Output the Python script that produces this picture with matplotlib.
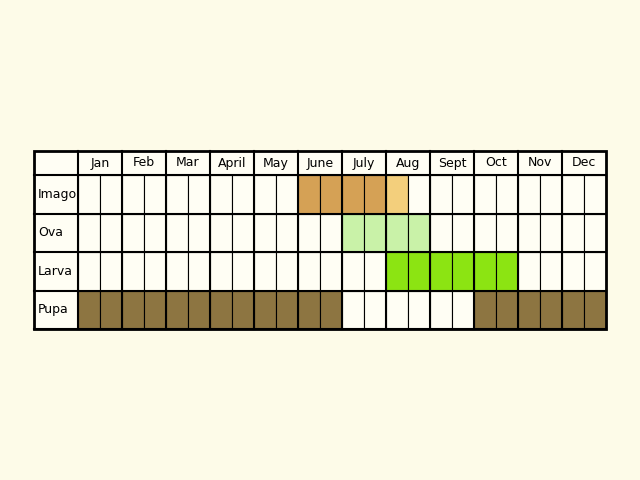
import matplotlib
matplotlib.use("Agg")
import matplotlib.pyplot as plt
from matplotlib.patches import Rectangle

months = ["Jan","Feb","Mar","Apr","April","May","June","July","Aug","Sept","Oct","Nov","Dec"]
months = ["Jan","Feb","Mar","April","May","June","July","Aug","Sept","Oct","Nov","Dec"]
stages = ["Imago","Ova","Larva","Pupa"]
# per half-month codes (24 each): 0 none, 1 main, 2 partial
imago = [0]*10 + [1,1,1,1,2] + [0]*9
ova   = [0]*12 + [1,1,1,1] + [0]*8
larva = [0]*14 + [1]*6 + [0]*4
pupa  = [1]*12 + [0]*6 + [1]*6
stage_data = [imago, ova, larva, pupa]
colors = {"Imago": {1: "#d5a155", 2: "#f3cf7c"},
          "Ova": {1: "#c9f2a8"},
          "Larva": {1: "#8ce412"},
          "Pupa": {1: "#8d7541"}}

bg = "#fdfbe8"; cell = "#fffef4"
fig = plt.figure(figsize=(6.4, 4.8), dpi=100, facecolor=bg)
ax = fig.add_axes([0, 0, 1, 1])
ax.set_xlim(0, 640); ax.set_ylim(480, 0); ax.axis("off")

x0, lab_w, half = 34, 44, 22
y0, head_h, row_h = 151, 24, 38.5
xs = x0 + lab_w
total_w = lab_w + 24 * half
total_h = head_h + 4 * row_h
ax.add_patch(Rectangle((x0, y0), total_w, total_h, fc=cell, ec="none"))

for r, (st, data) in enumerate(zip(stages, stage_data)):
    y = y0 + head_h + r * row_h
    ax.text(x0 + 4, y + row_h / 2, st, va="center", ha="left", fontsize=9)
    for i, v in enumerate(data):
        fc = colors[st].get(v, cell)
        ax.add_patch(Rectangle((xs + i * half, y), half, row_h, fc=fc, ec="black", lw=0.8))
for m, name in enumerate(months):
    ax.text(xs + m * 2 * half + half, y0 + head_h / 2, name, ha="center", va="center", fontsize=9)
    ax.plot([xs + m * 2 * half] * 2, [y0, y0 + total_h], color="black", lw=1.5)
for r in range(5):
    y = y0 + head_h + r * row_h
    ax.plot([x0, x0 + total_w], [y, y], color="black", lw=1.5)
ax.add_patch(Rectangle((x0, y0), total_w, total_h, fc="none", ec="black", lw=2))
fig.savefig("out.png", dpi=100, facecolor=bg)
